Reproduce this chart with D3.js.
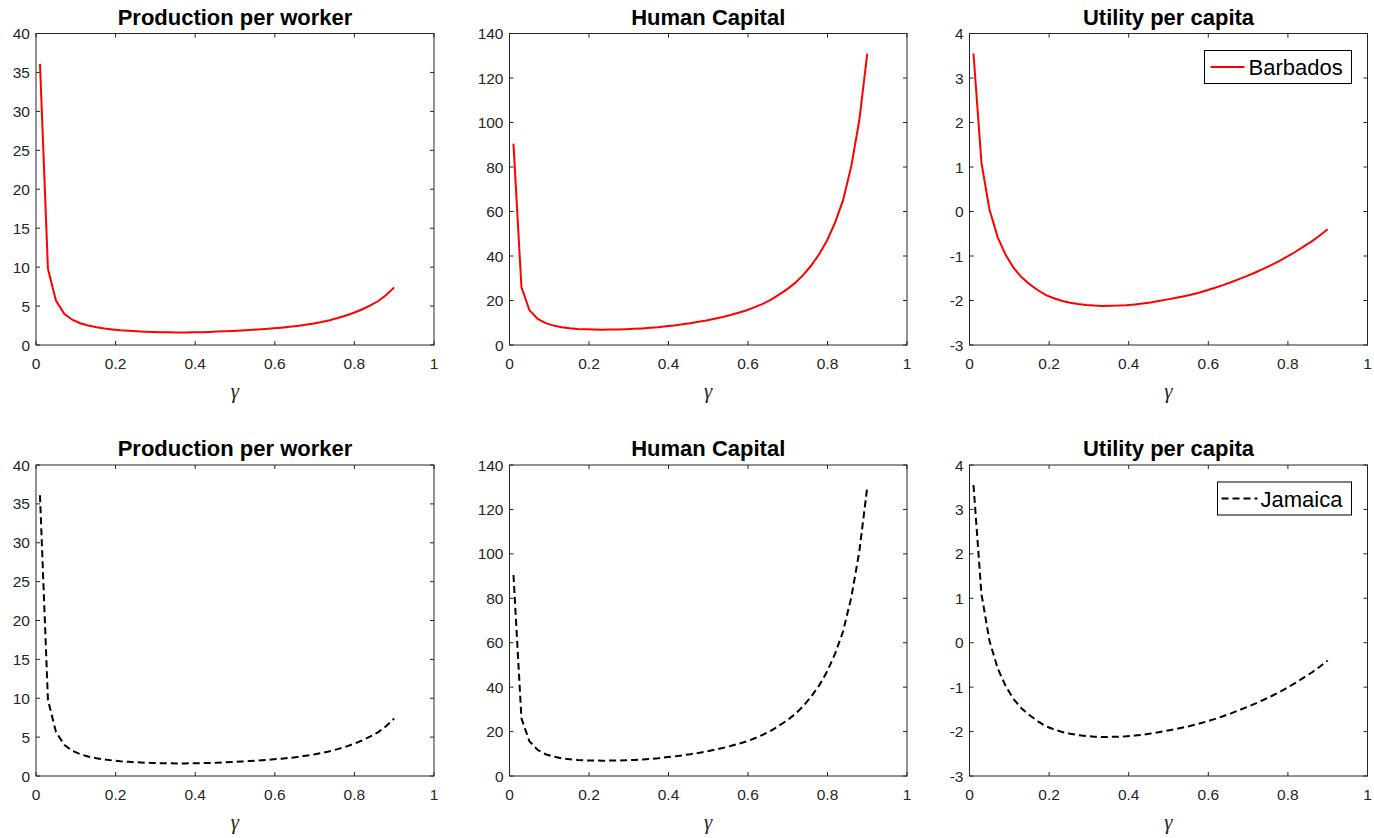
<!DOCTYPE html>
<html>
<head>
<meta charset="utf-8">
<script src="https://cdn.jsdelivr.net/npm/d3@7"></script>
<style>
  body { margin: 0; background: #fff; }
  svg { display: block; font-family: "Liberation Sans", Arial, sans-serif; }
</style>
</head>
<body>
<div id="chart"></div>
<script>
// gamma grid (45 points, 0.01 .. 0.9)
var gamma = [0.010, 0.030, 0.050, 0.071, 0.091, 0.111, 0.131, 0.152, 0.172, 0.192,
             0.212, 0.233, 0.253, 0.273, 0.293, 0.313, 0.334, 0.354, 0.374, 0.394,
             0.415, 0.435, 0.455, 0.475, 0.495, 0.516, 0.536, 0.556, 0.576, 0.597,
             0.617, 0.637, 0.657, 0.677, 0.698, 0.718, 0.738, 0.758, 0.779, 0.799,
             0.819, 0.839, 0.860, 0.880, 0.900];

var prodBarbados = [36.1, 9.8, 5.7, 4.0, 3.25, 2.8, 2.5, 2.28, 2.12, 2.0,
                    1.9, 1.82, 1.76, 1.71, 1.67, 1.64, 1.63, 1.62, 1.62, 1.63,
                    1.65, 1.68, 1.72, 1.76, 1.81, 1.86, 1.92, 1.99, 2.06, 2.14,
                    2.23, 2.33, 2.45, 2.59, 2.76, 2.96, 3.19, 3.46, 3.78, 4.14,
                    4.56, 5.05, 5.65, 6.42, 7.4];
var humanBarbados = [90.5, 26, 15.7, 11.7, 9.8, 8.7, 8.0, 7.5, 7.2, 7.05,
                     6.95, 6.9, 6.95, 7.0, 7.1, 7.25, 7.45, 7.7, 8.0, 8.4,
                     8.8, 9.3, 9.8, 10.4, 11.0, 11.8, 12.6, 13.5, 14.5, 15.6,
                     17.0, 18.5, 20.3, 22.5, 25.0, 27.8, 31.3, 35.5, 40.8, 47.0,
                     55.0, 65.0, 80.5, 101, 131];
var utilBarbados = [3.55, 1.1, 0.05, -0.58, -0.98, -1.27, -1.48, -1.64, -1.77, -1.88,
                    -1.95, -2.01, -2.05, -2.08, -2.1, -2.115, -2.122, -2.12, -2.115, -2.105,
                    -2.09, -2.07, -2.045, -2.013, -1.98, -1.946, -1.91, -1.87, -1.825, -1.77,
                    -1.715, -1.655, -1.59, -1.52, -1.447, -1.37, -1.29, -1.205, -1.11, -1.01,
                    -0.905, -0.79, -0.67, -0.54, -0.4];

var prodJamaica = [36.1, 9.8, 5.7, 4.0, 3.25, 2.8, 2.5, 2.28, 2.12, 2.0,
                   1.9, 1.82, 1.76, 1.71, 1.67, 1.64, 1.63, 1.62, 1.62, 1.63,
                   1.65, 1.68, 1.72, 1.76, 1.81, 1.86, 1.92, 1.99, 2.06, 2.14,
                   2.23, 2.33, 2.45, 2.59, 2.76, 2.96, 3.19, 3.46, 3.78, 4.14,
                   4.56, 5.05, 5.65, 6.42, 7.4];
var humanJamaica = [90.5, 26, 15.7, 11.7, 9.8, 8.7, 8.0, 7.5, 7.2, 7.05,
                    6.95, 6.9, 6.95, 7.0, 7.1, 7.25, 7.45, 7.7, 8.0, 8.4,
                    8.8, 9.3, 9.8, 10.4, 11.0, 11.8, 12.6, 13.5, 14.5, 15.6,
                    17.0, 18.5, 20.3, 22.5, 25.0, 27.8, 31.3, 35.5, 40.8, 47.0,
                    55.0, 65.0, 80.5, 101, 130];
var utilJamaica = [3.55, 1.1, 0.05, -0.58, -0.98, -1.27, -1.48, -1.64, -1.77, -1.88,
                   -1.95, -2.01, -2.05, -2.08, -2.1, -2.115, -2.122, -2.12, -2.115, -2.105,
                   -2.09, -2.07, -2.045, -2.013, -1.98, -1.946, -1.91, -1.87, -1.825, -1.77,
                   -1.715, -1.655, -1.59, -1.52, -1.447, -1.37, -1.29, -1.205, -1.11, -1.01,
                   -0.905, -0.79, -0.67, -0.54, -0.4];

var titles = ["Production per worker", "Human Capital", "Utility per capita"];
var yDomains = [[0, 40], [0, 140], [-3, 4]];
var yTicks = [[0, 5, 10, 15, 20, 25, 30, 35, 40],
              [0, 20, 40, 60, 80, 100, 120, 140],
              [-3, -2, -1, 0, 1, 2, 3, 4]];
var xTicks = [0, 0.2, 0.4, 0.6, 0.8, 1];
var countries = ["Barbados", "Jamaica"];

var rows = [
  {series: [prodBarbados, humanBarbados, utilBarbados], color: "#ff0000", dash: null},
  {series: [prodJamaica, humanJamaica, utilJamaica], color: "#000000", dash: "7,4"}
];

var W = 1374, H = 838;
var colX = [[36, 434], [509.5, 907], [969.5, 1367.5]];
var rowY = [[33.5, 345], [465, 776]];
var axisColor = "#262626";

var svg = d3.select("#chart").append("svg")
    .attr("width", W)
    .attr("height", H);

rows.forEach(function(row, r) {
  for (var c = 0; c < 3; c++) {
    var x = d3.scaleLinear().domain([0, 1]).range(colX[c]);
    var y = d3.scaleLinear().domain(yDomains[c]).range([rowY[r][1], rowY[r][0]]);
    var g = svg.append("g");
    var tl = 4;

    // box
    g.append("rect")
      .attr("x", colX[c][0]).attr("y", rowY[r][0])
      .attr("width", colX[c][1] - colX[c][0])
      .attr("height", rowY[r][1] - rowY[r][0])
      .attr("fill", "none").attr("stroke", axisColor).attr("stroke-width", 1);

    // ticks on all four sides, pointing inward
    var xt = g.append("g").selectAll("g").data(xTicks).enter();
    xt.append("line")
      .attr("x1", d => x(d)).attr("x2", d => x(d))
      .attr("y1", rowY[r][1]).attr("y2", rowY[r][1] - tl)
      .attr("stroke", axisColor);
    xt.append("line")
      .attr("x1", d => x(d)).attr("x2", d => x(d))
      .attr("y1", rowY[r][0]).attr("y2", rowY[r][0] + tl)
      .attr("stroke", axisColor);
    xt.append("text")
      .attr("x", d => x(d)).attr("y", rowY[r][1] + 23.5)
      .attr("text-anchor", "middle")
      .attr("font-size", 15.5).attr("fill", axisColor)
      .text(d => d);

    var yt = g.append("g").selectAll("g").data(yTicks[c]).enter();
    yt.append("line")
      .attr("x1", colX[c][0]).attr("x2", colX[c][0] + tl)
      .attr("y1", d => y(d)).attr("y2", d => y(d))
      .attr("stroke", axisColor);
    yt.append("line")
      .attr("x1", colX[c][1]).attr("x2", colX[c][1] - tl)
      .attr("y1", d => y(d)).attr("y2", d => y(d))
      .attr("stroke", axisColor);
    yt.append("text")
      .attr("x", colX[c][0] - 6).attr("y", d => y(d) + 5.5)
      .attr("text-anchor", "end")
      .attr("font-size", 15.5).attr("fill", axisColor)
      .text(d => d);

    // title
    g.append("text")
      .attr("x", (colX[c][0] + colX[c][1]) / 2)
      .attr("y", rowY[r][0] - 9)
      .attr("text-anchor", "middle")
      .attr("font-size", 22).attr("font-weight", "bold")
      .attr("fill", "#000")
      .text(titles[c]);

    // x label
    g.append("text")
      .attr("x", (colX[c][0] + colX[c][1]) / 2)
      .attr("y", rowY[r][1] + 53)
      .attr("text-anchor", "middle")
      .attr("font-family", "'Liberation Serif', 'DejaVu Serif', serif")
      .attr("font-style", "italic")
      .attr("font-size", 21).attr("fill", axisColor)
      .text("γ");

    // curve
    var line = d3.line()
      .x((d, i) => x(gamma[i]))
      .y(d => y(d));
    g.append("path")
      .datum(row.series[c])
      .attr("d", line)
      .attr("fill", "none")
      .attr("stroke", row.color)
      .attr("stroke-width", 2)
      .attr("stroke-dasharray", row.dash);

    // legend in right-hand panel
    if (c == 2) {
      var lw = r == 0 ? 147 : 134;
      var lx = colX[c][1] - 16 - lw;
      var ly = rowY[r][0] + 17;
      var leg = g.append("g").attr("transform", "translate(" + lx + "," + ly + ")");
      leg.append("rect")
        .attr("width", lw).attr("height", 33)
        .attr("fill", "#fff").attr("stroke", "#000").attr("stroke-width", 1);
      leg.append("line")
        .attr("x1", r == 0 ? 6 : 4).attr("x2", 40)
        .attr("y1", 16.5).attr("y2", 16.5)
        .attr("stroke", row.color).attr("stroke-width", 2)
        .attr("stroke-dasharray", row.dash);
      leg.append("text")
        .attr("x", r == 0 ? 44 : 43).attr("y", 24.5)
        .attr("font-size", 22).attr("fill", "#000")
        .text(countries[r]);
    }
  }
});
</script>
</body>
</html>
